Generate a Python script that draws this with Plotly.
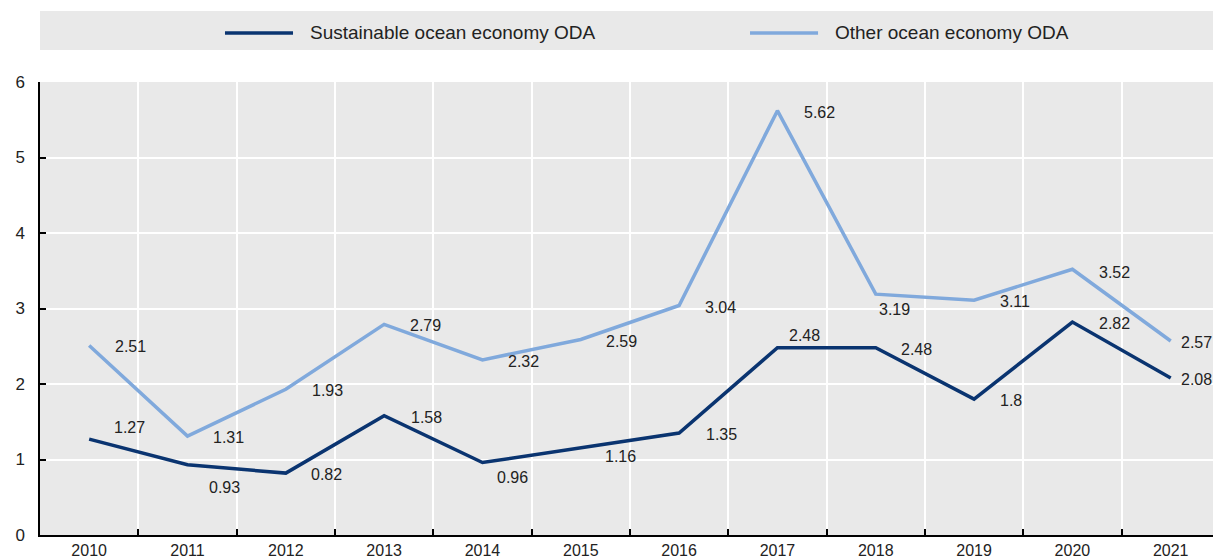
import plotly.graph_objects as go

years = ["2010", "2011", "2012", "2013", "2014", "2015",
         "2016", "2017", "2018", "2019", "2020", "2021"]
sustainable = [1.27, 0.93, 0.82, 1.58, 0.96, 1.16, 1.35, 2.48, 2.48, 1.80, 2.82, 2.08]
other = [2.51, 1.31, 1.93, 2.79, 2.32, 2.59, 3.04, 5.62, 3.19, 3.11, 3.52, 2.57]
sustainable_name = "Sustainable ocean economy ODA"
other_name = "Other ocean economy ODA"

# label offsets in pixels (left edge of text relative to the point), x right, y up
sustainable_offsets = [(23, 12), (20, -23), (23, -1), (25, -2), (13, -15), (22, -9),
                       (25, -1), (10, 12), (23, -2), (24, -1), (25, -1), (8, -2)]
other_offsets = [(24, -1), (24, -1), (24, -1), (24, -1), (24, -2), (23, -2),
                 (24, -2), (25, -2), (1, -15), (24, -1), (25, -3), (8, -2)]

DARK = "#0A3470"
LIGHT = "#80A9DC"
BG = "#E9E9E9"
TEXT = "#222222"
FONT = "Liberation Sans, Arial, sans-serif"

fig = go.Figure()
fig.add_trace(go.Scatter(x=years, y=other, mode="lines", name=other_name,
                         line=dict(color=LIGHT, width=3.5), showlegend=False))
fig.add_trace(go.Scatter(x=years, y=sustainable, mode="lines", name=sustainable_name,
                         line=dict(color=DARK, width=3.5), showlegend=False))

annotations = []
for vals, offs in ((sustainable, sustainable_offsets), (other, other_offsets)):
    for i, (v, (dx, dy)) in enumerate(zip(vals, offs)):
        # category axis: position annotations by category index
        annotations.append(dict(
            x=i, y=v, xref="x", yref="y", text=f"{v:g}", showarrow=False,
            xanchor="left", yanchor="middle", xshift=dx, yshift=dy,
            font=dict(family=FONT, size=16, color=TEXT)))

# legend strip above the plot
LEG_Y = 1.1082
shapes = [
    dict(type="rect", xref="paper", yref="paper", x0=0, x1=1.0, y0=1.0706, y1=1.1567,
         fillcolor=BG, line=dict(width=0), layer="below"),
    dict(type="line", xref="paper", yref="paper", x0=0.1577, x1=0.2157, y0=LEG_Y, y1=LEG_Y,
         line=dict(color=DARK, width=3.5)),
    dict(type="line", xref="paper", yref="paper", x0=0.6053, x1=0.6633, y0=LEG_Y, y1=LEG_Y,
         line=dict(color=LIGHT, width=3.5)),
]
annotations.append(dict(x=0.2285, y=LEG_Y, xref="paper", yref="paper", text=sustainable_name,
                        showarrow=False, xanchor="left", yanchor="middle",
                        font=dict(family=FONT, size=19, color=TEXT)))
annotations.append(dict(x=0.6760, y=LEG_Y, xref="paper", yref="paper", text=other_name,
                        showarrow=False, xanchor="left", yanchor="middle",
                        font=dict(family=FONT, size=19, color=TEXT)))

fig.update_layout(
    width=1213, height=558,
    margin=dict(l=40, r=0, t=82, b=23),
    paper_bgcolor="white", plot_bgcolor=BG,
    font=dict(family=FONT, size=16, color=TEXT),
    shapes=shapes, annotations=annotations,
)
fig.update_xaxes(type="category", range=[-0.5, 11.43], tickson="boundaries",
                 ticks="inside", ticklen=6, tickcolor="black", tickwidth=1.5,
                 showgrid=True, gridcolor="white", gridwidth=1.5,
                 showline=True, linecolor="black", linewidth=1.5,
                 tickfont=dict(size=16), fixedrange=True)
fig.update_yaxes(range=[0, 6], tickvals=[0, 1, 2, 3, 4, 5, 6],
                 ticks="inside", ticklen=6, tickcolor="black", tickwidth=1.5,
                 showgrid=True, gridcolor="white", gridwidth=1.5,
                 showline=True, linecolor="black", linewidth=1.5,
                 zeroline=False, ticklabelstandoff=10,
                 tickfont=dict(size=17), fixedrange=True)

fig.write_html("out.html")
